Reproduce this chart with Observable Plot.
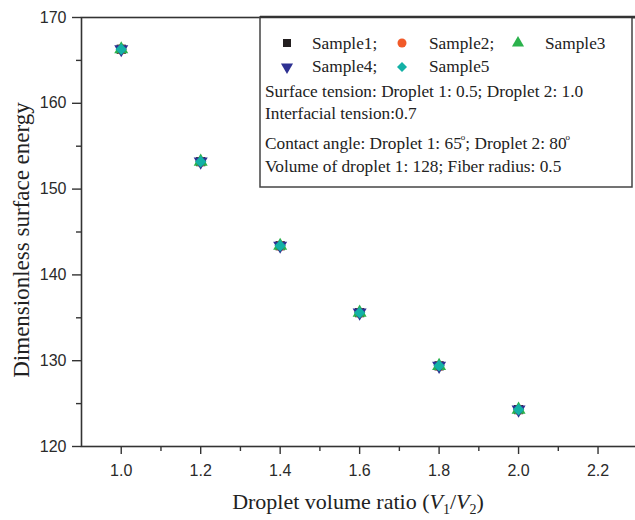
<!DOCTYPE html>
<html>
<head>
<meta charset="utf-8">
<script src="https://cdn.jsdelivr.net/npm/d3@7"></script>
<script src="https://cdn.jsdelivr.net/npm/@observablehq/plot@0.6"></script>
<style>
  html, body { margin: 0; padding: 0; background: #fff; overflow: hidden; }
  #chart { width: 635px; height: 520px; overflow: hidden; position: relative; }
  #chart svg { max-width: none !important; width: 680px !important; height: 520px !important; }
</style>
</head>
<body>
<div id="chart"></div>
<script>
// ---- data ----
const volumeRatio = [1.0, 1.2, 1.4, 1.6, 1.8, 2.0];
const sample1 = [166.3, 153.2, 143.4, 135.6, 129.4, 124.3];
const sample2 = [166.3, 153.2, 143.4, 135.6, 129.4, 124.3];
const sample3 = [166.3, 153.2, 143.4, 135.6, 129.4, 124.3];
const sample4 = [166.3, 153.2, 143.4, 135.6, 129.4, 124.3];
const sample5 = [166.3, 153.2, 143.4, 135.6, 129.4, 124.3];
const sampleNames = ["Sample1", "Sample2", "Sample3", "Sample4", "Sample5"];
const sampleColors = ["#231f20", "#f15a29", "#2bb24c", "#2e3192", "#13b1a6"];
const xTicks = [1.0, 1.2, 1.4, 1.6, 1.8, 2.0, 2.2];
const xMinorTicks = [1.1, 1.3, 1.5, 1.7, 1.9, 2.1, 2.3];
const yTicks = [120, 130, 140, 150, 160, 170];
const yMinorTicks = [125, 135, 145, 155, 165];
const legendLines = [
  "Surface tension: Droplet 1: 0.5; Droplet 2: 1.0",
  "Interfacial tension:0.7"
];
const volumeLine = "Volume of droplet 1: 128; Fiber radius: 0.5";

const allSamples = [sample1, sample2, sample3, sample4, sample5];
const data = allSamples.flatMap((vals, i) =>
  volumeRatio.map((x, j) => ({ x, y: vals[j], s: sampleNames[i] })));

// down-pointing triangle
const sqrt3 = Math.sqrt(3);
const triangleDown = {
  draw(context, size) {
    const y = -Math.sqrt(size / (sqrt3 * 3));
    context.moveTo(0, -2 * y);
    context.lineTo(-sqrt3 * y, y);
    context.lineTo(sqrt3 * y, y);
    context.closePath();
  }
};
const symbols = [d3.symbolSquare, d3.symbolCircle, d3.symbolTriangle, triangleDown, d3.symbolDiamond2];

const tickFont = "'Liberation Sans Narrow', 'Liberation Sans', Arial, sans-serif";
const serif = "'Liberation Serif', 'Times New Roman', serif";

const plot = Plot.plot({
  width: 680,
  height: 520,
  marginLeft: 81,
  marginRight: 3,
  marginTop: 17,
  marginBottom: 74,
  style: { fontFamily: tickFont, fontSize: "16px", color: "#222", background: "#fff", maxWidth: "none" },
  x: { domain: [0.9, 2.4] },
  y: { domain: [120, 170] },
  color: { domain: sampleNames, range: sampleColors },
  symbol: { domain: sampleNames, range: symbols },
  marks: [
    Plot.axisX({ ticks: xTicks, tickSize: 8, tickPadding: 10, tickFormat: d3.format(".1f"), label: null, stroke: "#333", strokeWidth: 1.4, fill: "#2a2a2a" }),
    Plot.axisX({ ticks: xMinorTicks, tickSize: 5, tickFormat: () => "", label: null, stroke: "#333", strokeWidth: 1.4 }),
    Plot.axisY({ ticks: yTicks, tickSize: 9, tickPadding: 6, label: null, stroke: "#333", strokeWidth: 1.4, fill: "#2a2a2a" }),
    Plot.axisY({ ticks: yMinorTicks, tickSize: 5, tickFormat: () => "", label: null, stroke: "#333", strokeWidth: 1.4 }),
    Plot.frame({ stroke: "#333", strokeWidth: 1.6 }),
    Plot.dot(data, { x: "x", y: "y", symbol: "s", fill: "s", r: 5.2, stroke: "none" })
  ]
});

document.getElementById("chart").appendChild(plot);

const svg = d3.select(plot);

// axis titles
svg.append("text")
  .attr("transform", "translate(29,240) rotate(-90)")
  .attr("text-anchor", "middle")
  .attr("font-family", serif)
  .attr("font-size", 23)
  .attr("fill", "#222")
  .text("Dimensionless surface energy");

const xl = svg.append("text")
  .attr("x", 358).attr("y", 509)
  .attr("text-anchor", "middle")
  .attr("font-family", serif)
  .attr("font-size", 22)
  .attr("fill", "#222");
xl.append("tspan").text("Droplet volume ratio (");
xl.append("tspan").attr("font-style", "italic").text("V");
xl.append("tspan").attr("font-size", 14).attr("dy", 5).text("1");
xl.append("tspan").attr("dy", -5).text("/");
xl.append("tspan").attr("font-style", "italic").text("V");
xl.append("tspan").attr("font-size", 14).attr("dy", 5).text("2");
xl.append("tspan").attr("dy", -5).text(")");

// legend box
const lg = svg.append("g").attr("font-family", serif).attr("font-size", 17.3)
  .attr("fill", "#222").attr("text-anchor", "start");
lg.append("rect")
  .attr("x", 260).attr("y", 17).attr("width", 372).attr("height", 170)
  .attr("fill", "#fff").attr("stroke", "#444").attr("stroke-width", 1.5);
lg.append("line").attr("x1", 260).attr("x2", 680).attr("y1", 17).attr("y2", 17)
  .attr("stroke", "#333").attr("stroke-width", 2.6);

const legendPos = [
  { sx: 287, tx: 312, cy: 43, by: 48.5, label: "Sample1;" },
  { sx: 402, tx: 429, cy: 43, by: 48.5, label: "Sample2;" },
  { sx: 518, tx: 545, cy: 43, by: 48.5, label: "Sample3" },
  { sx: 287, tx: 312, cy: 67, by: 72, label: "Sample4;" },
  { sx: 402, tx: 429, cy: 67, by: 72, label: "Sample5" }
];
legendPos.forEach((p, i) => {
  lg.append("path")
    .attr("d", d3.symbol(symbols[i], Math.PI * 4.5 * 4.5)())
    .attr("transform", `translate(${p.sx},${p.cy})`)
    .attr("fill", sampleColors[i]);
  lg.append("text").attr("x", p.tx).attr("y", p.by).text(p.label);
});
lg.append("text").attr("x", 265).attr("y", 97).text(legendLines[0]);
lg.append("text").attr("x", 265).attr("y", 119).text(legendLines[1]);
const ca = lg.append("text").attr("x", 265).attr("y", 149);
ca.append("tspan").text("Contact angle: Droplet 1: 65");
ca.append("tspan").attr("font-size", 9).attr("dx", -1).attr("dy", -9).text("o");
ca.append("tspan").attr("dy", 9).text("; Droplet 2: 80");
ca.append("tspan").attr("font-size", 9).attr("dx", -1).attr("dy", -9).text("o");
lg.append("text").attr("x", 265).attr("y", 172).text(volumeLine);
</script>
</body>
</html>
